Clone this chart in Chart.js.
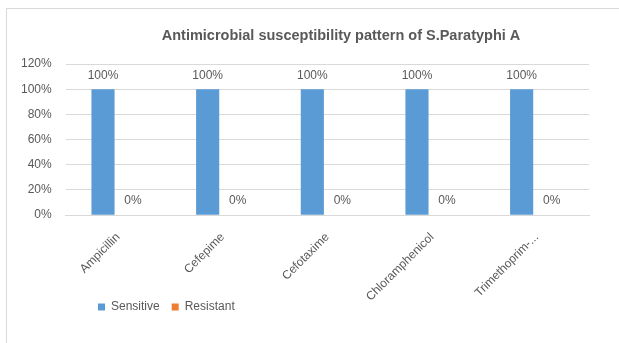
<!DOCTYPE html>
<html>
<head>
<meta charset="utf-8">
<script src="https://cdn.jsdelivr.net/npm/chart.js@4"></script>
<style>
  html, body { margin: 0; padding: 0; background: #fff; overflow: hidden; }
  #wrap { position: relative; width: 619px; height: 343px; }
  #frame { position: absolute; left: 6px; top: 8px; width: 640px; height: 360px; border: 1px solid #d9d9d9; }
  #c { position: absolute; left: 0; top: 0; }
</style>
</head>
<body>
<div id="wrap">
  <div id="frame"></div>
  <canvas id="c" width="619" height="343"></canvas>
</div>
<script>
// Antibiotics tested
const categories = ['Ampicillin', 'Cefepime', 'Cefotaxime', 'Chloramphenicol', 'Trimethoprim-...'];
// Percentage of isolates in each group
const sensitive = [100, 100, 100, 100, 100];
const resistant = [0, 0, 0, 0, 0];
const seriesNames = ['Sensitive', 'Resistant'];
// Value axis
const yMin = 0;
const yMax = 120;
const yStep = 20;

const TEXT = '#595959';
const FONT = "'Liberation Sans', Arial, sans-serif";

// Prints each bar's value just above it
const valueLabels = {
  id: 'valueLabels',
  afterDatasetsDraw(chart) {
    const ctx = chart.ctx;
    ctx.save();
    ctx.font = '12px ' + FONT;
    ctx.fillStyle = TEXT;
    ctx.textAlign = 'center';
    ctx.textBaseline = 'middle';
    chart.data.datasets.forEach((ds, i) => {
      const meta = chart.getDatasetMeta(i);
      meta.data.forEach((bar, j) => {
        ctx.fillText(ds.data[j] + '%', bar.x, bar.y - 14);
      });
    });
    ctx.restore();
  }
};

// Places the title over the plot and tucks the legend row under the left labels
const boxPlacement = {
  id: 'boxPlacement',
  afterLayout(chart) {
    const t = chart.titleBlock;
    if (t) { t.left += 43; t.right += 43; }
    const lg = chart.legend;
    const w = lg.right - lg.left;
    lg.left = 86;
    lg.right = 86 + w;
    lg.top = 289;
    lg.bottom = 289 + 30;
  }
};

new Chart(document.getElementById('c'), {
  type: 'bar',
  data: {
    labels: categories,
    datasets: [
      { label: seriesNames[0], data: sensitive, backgroundColor: '#5B9BD5', barPercentage: 0.77, categoryPercentage: 0.574 },
      { label: seriesNames[1], data: resistant, backgroundColor: '#ED7D31', barPercentage: 0.77, categoryPercentage: 0.574 }
    ]
  },
  options: {
    responsive: false,
    animation: false,
    devicePixelRatio: 1,
    layout: { padding: { left: 7, right: 30, top: 0, bottom: 12 } },
    plugins: {
      title: {
        display: true,
        text: 'Antimicrobial susceptibility pattern of S.Paratyphi A',
        color: TEXT,
        font: { family: FONT, size: 14.5, weight: 'bold' },
        padding: { top: 27, bottom: 19.6 }
      },
      legend: {
        position: 'bottom',
        align: 'start',
        maxHeight: 20,
        labels: {
          color: TEXT,
          font: { family: FONT, size: 12 },
          boxWidth: 7,
          boxHeight: 7,
          padding: 12
        }
      },
      tooltip: { enabled: false }
    },
    scales: {
      x: {
        grid: { display: false },
        border: { display: true, color: '#d9d9d9' },
        ticks: {
          color: TEXT,
          font: { family: FONT, size: 12 },
          maxRotation: 45,
          minRotation: 45,
          autoSkip: false,
          padding: 7
        }
      },
      y: {
        min: yMin,
        max: yMax,
        grid: { color: '#d9d9d9', drawTicks: false },
        border: { display: false },
        ticks: {
          stepSize: yStep,
          color: TEXT,
          font: { family: FONT, size: 12 },
          padding: 14,
          callback: v => v + '%'
        }
      }
    }
  },
  plugins: [valueLabels, boxPlacement]
});
</script>
</body>
</html>
